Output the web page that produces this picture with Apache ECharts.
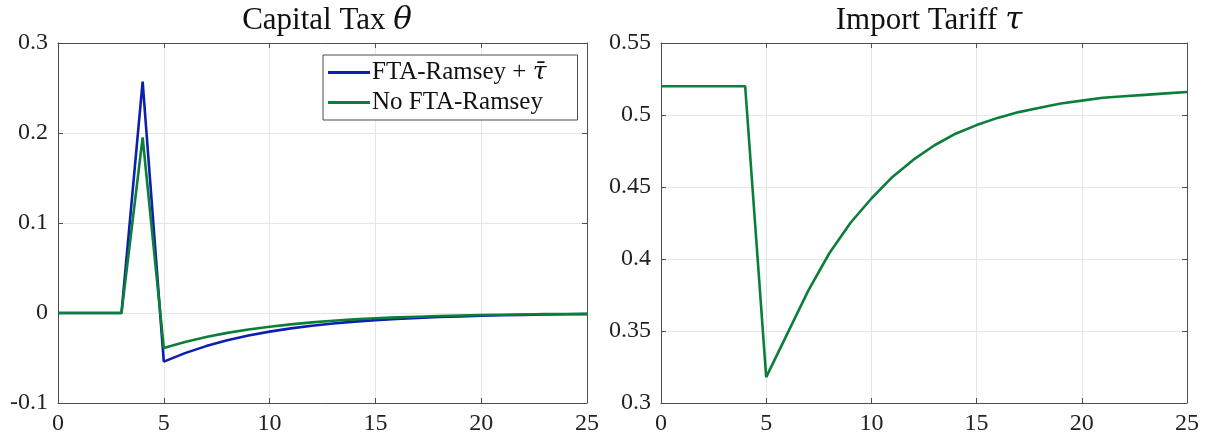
<!DOCTYPE html>
<html>
<head>
<meta charset="utf-8">
<script src="https://cdn.jsdelivr.net/npm/echarts@6/dist/echarts.min.js"></script>
<style>
    html, body { margin: 0; padding: 0; background: #fff; }
    #chart { width: 1212px; height: 440px; }
</style>
</head>
<body>
<div id="chart"></div>
<script>
// periods on the horizontal axis
var periods = [0, 1, 2, 3, 4, 5, 6, 7, 8, 9, 10, 11, 12, 13, 14, 15, 16, 17, 18, 19, 20, 21, 22, 23, 24, 25];

// capital tax theta
var thetaFta = [0, 0, 0, 0, 0.257, -0.054, -0.0446, -0.0368, -0.0303, -0.025, -0.0207, -0.0171, -0.0141,
    -0.0116, -0.0096, -0.0079, -0.0065, -0.0054, -0.0044, -0.0037, -0.003, -0.0025, -0.0021, -0.0017, -0.0014, -0.0012];
var thetaNoFta = [0, 0, 0, 0, 0.195, -0.039, -0.0323, -0.0267, -0.0221, -0.0183, -0.0152, -0.0126, -0.0104,
    -0.0086, -0.0071, -0.0059, -0.0049, -0.0041, -0.0034, -0.0028, -0.0023, -0.0019, -0.0016, -0.0013, -0.0011, -0.0009];

// import tariff tau
var tauNoFta = [0.52, 0.52, 0.52, 0.52, 0.52, 0.318, 0.348, 0.378, 0.404, 0.425, 0.442, 0.457, 0.469,
    0.479, 0.487, 0.493, 0.498, 0.502, 0.505, 0.508, 0.510, 0.512, 0.513, 0.514, 0.515, 0.516];

var xTicks = [0, 5, 10, 15, 20, 25];
var thetaTicks = [-0.1, 0, 0.1, 0.2, 0.3];
var tauTicks = [0.3, 0.35, 0.4, 0.45, 0.5, 0.55];

var BLUE = "#0c1fae";
var GREEN = "#0b7f3a";
var FONT = "'Liberation Serif', 'DejaVu Serif', serif";

function pairs(ys) {
    return periods.map(function (x, i) {
        return [x, ys[i]];
    });
}

function fmt(v) {
    return String(parseFloat(v.toFixed(4)));
}

function xAxis(gridIndex) {
    return {
        type: "value",
        gridIndex: gridIndex,
        min: xTicks[0],
        max: xTicks[xTicks.length - 1],
        interval: 5,
        axisLine: { show: true, onZero: false, lineStyle: { color: "#4d4d4d", width: 1 } },
        axisTick: { show: true, inside: true, length: 5, lineStyle: { color: "#4d4d4d" } },
        axisLabel: { color: "#222", fontSize: 24, fontFamily: FONT, margin: 9, formatter: fmt },
        splitLine: { show: true, lineStyle: { color: "#e6e6e6", width: 1 } }
    };
}

function yAxis(gridIndex, ticks, interval) {
    return {
        type: "value",
        gridIndex: gridIndex,
        min: ticks[0],
        max: ticks[ticks.length - 1],
        interval: interval,
        axisLine: { show: true, onZero: false, lineStyle: { color: "#4d4d4d", width: 1 } },
        axisTick: { show: true, inside: true, length: 5, lineStyle: { color: "#4d4d4d" } },
        axisLabel: { color: "#222", fontSize: 24, fontFamily: FONT, margin: 10, formatter: fmt },
        splitLine: { show: true, lineStyle: { color: "#e6e6e6", width: 1 } }
    };
}

// mirror axes for the boxed look with ticks on all sides
function mirrorX(gridIndex) {
    var a = xAxis(gridIndex);
    a.position = "top";
    a.axisLabel = { show: false };
    a.splitLine = { show: false };
    return a;
}

function mirrorY(gridIndex, ticks, interval) {
    var a = yAxis(gridIndex, ticks, interval);
    a.position = "right";
    a.axisLabel = { show: false };
    a.splitLine = { show: false };
    return a;
}

var chart = echarts.init(document.getElementById("chart"), null, { renderer: "canvas" });

var titleRich = {
    r: { fontSize: 31, fontFamily: FONT, fontWeight: "normal", color: "#111" },
    i: { fontSize: 31, fontFamily: "'DejaVu Serif', serif", fontStyle: "italic", fontWeight: "normal", color: "#111" }
};

var option = {
    backgroundColor: "#fff",
    animation: false,
    title: [
        {
            text: "{r|Capital Tax }{i|θ}",
            left: 322,
            top: 0,
            textAlign: "center",
            textStyle: { fontWeight: "normal", rich: titleRich }
        },
        {
            text: "{r|Import Tariff }{i|τ}",
            left: 924,
            top: 0,
            textAlign: "center",
            textStyle: { fontWeight: "normal", rich: titleRich }
        }
    ],
    legend: {
        orient: "vertical",
        left: 323,
        top: 55,
        padding: [5, 31, 5, 5],
        itemGap: 5,
        itemWidth: 42,
        itemHeight: 3,
        icon: "rect",
        borderColor: "#4d4d4d",
        borderWidth: 1,
        borderRadius: 0,
        backgroundColor: "#fff",
        data: ["FTA-Ramsey", "No FTA-Ramsey"],
        formatter: function (name) {
            if (name === "FTA-Ramsey") {
                return "{r|FTA-Ramsey + }{i|τ̄}";
            }
            return "{r|" + name + "}";
        },
        textStyle: {
            fontSize: 25,
            fontFamily: FONT,
            color: "#111",
            padding: [0, 0, 0, -3],
            rich: {
                r: { fontSize: 25, fontFamily: FONT, color: "#111" },
                i: { fontSize: 25, fontFamily: "'DejaVu Serif', serif", fontStyle: "italic", color: "#111" }
            }
        }
    },
    grid: [
        { left: 58, top: 43, width: 529, height: 360 },
        { left: 661, top: 43, width: 526, height: 360 }
    ],
    xAxis: [xAxis(0), xAxis(1), mirrorX(0), mirrorX(1)],
    yAxis: [yAxis(0, thetaTicks, 0.1), yAxis(1, tauTicks, 0.05),
        mirrorY(0, thetaTicks, 0.1), mirrorY(1, tauTicks, 0.05)],
    series: [
        {
            name: "FTA-Ramsey",
            type: "line",
            xAxisIndex: 0,
            yAxisIndex: 0,
            data: pairs(thetaFta),
            symbol: "none",
            lineStyle: { color: BLUE, width: 2.6 },
            itemStyle: { color: BLUE }
        },
        {
            name: "No FTA-Ramsey",
            type: "line",
            xAxisIndex: 0,
            yAxisIndex: 0,
            data: pairs(thetaNoFta),
            symbol: "none",
            lineStyle: { color: GREEN, width: 2.6 },
            itemStyle: { color: GREEN }
        },
        {
            name: "No FTA-Ramsey",
            type: "line",
            xAxisIndex: 1,
            yAxisIndex: 1,
            data: pairs(tauNoFta),
            symbol: "none",
            lineStyle: { color: GREEN, width: 2.6 },
            itemStyle: { color: GREEN }
        }
    ]
};

chart.setOption(option);
</script>
</body>
</html>
